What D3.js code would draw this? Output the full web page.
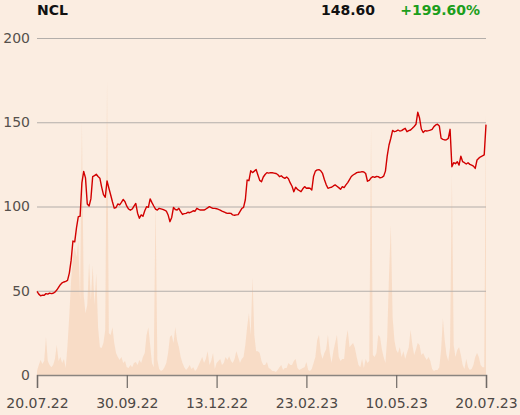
<!DOCTYPE html>
<html>
<head>
<meta charset="utf-8">
<script src="https://cdn.jsdelivr.net/npm/d3@7"></script>
<style>
  html, body { margin: 0; padding: 0; background: #fbede1; }
  svg { display: block; }
  svg text { font-family: "DejaVu Sans", sans-serif; }
</style>
</head>
<body>
<div id="chart"></div>
<script>
// header
var ticker = "NCL";
var lastPrice = "148.60";
var change = "+199.60%";

// x tick labels, one every 50 trading days
var tickIdx = [0, 50, 100, 150, 200, 250];
var tickLabels = ["20.07.22", "30.09.22", "13.12.22", "23.02.23", "10.05.23", "20.07.23"];
var yTicks = [0, 50, 100, 150, 200];

// daily close
var prices = [
  49.6,48.0,47.0,47.4,47.3,48.3,48.0,48.6,48.3,48.5,
  49.2,50.4,52.0,53.6,54.7,55.2,55.6,56.2,60.5,68.0,
  79.5,79.0,87.5,94.0,94.2,114.0,120.8,117.0,101.5,100.3,
  104.5,117.7,118.3,119.1,117.8,116.8,111.5,107.0,105.5,115.2,
  111.0,107.0,102.8,99.0,99.4,101.5,101.0,102.5,104.2,102.8,
  100.2,98.5,97.8,98.5,100.2,101.8,96.0,93.0,95.0,94.2,
  97.5,99.9,99.5,104.5,102.3,100.3,98.5,97.9,98.9,98.6,
  98.3,97.8,97.3,95.0,91.0,93.5,99.5,98.2,97.9,98.9,
  96.9,95.3,95.8,95.9,96.6,96.3,96.8,97.5,97.2,98.9,
  98.3,97.9,98.0,97.9,98.5,99.2,99.9,99.4,98.9,98.9,
  98.7,98.3,97.9,97.3,96.8,96.3,95.9,96.0,95.9,95.0,
  94.8,95.0,95.2,97.0,98.8,99.5,104.0,115.7,115.3,121.2,
  120.1,121.0,122.0,118.7,115.5,114.7,117.5,119.0,120.1,119.8,
  120.1,120.0,119.8,119.6,119.0,117.7,118.2,117.3,116.7,117.5,
  116.5,114.0,112.0,108.8,111.4,110.2,109.5,108.8,110.5,111.8,
  110.8,111.0,110.8,109.8,118.0,121.0,121.7,121.9,121.2,119.6,
  116.0,113.0,110.8,111.2,111.4,112.2,112.8,112.0,111.2,110.2,
  111.8,111.2,112.8,114.2,116.0,117.8,118.7,119.3,120.1,120.3,
  120.4,120.7,120.5,119.6,115.0,115.5,117.0,117.7,117.3,117.8,
  117.7,117.0,117.3,118.0,121.0,130.0,136.5,140.5,145.2,144.4,
  144.7,145.4,144.8,145.0,145.8,146.4,144.4,145.0,145.4,146.4,
  147.5,148.8,155.9,152.5,146.0,143.9,145.0,144.8,145.0,145.3,
  145.8,147.4,148.4,148.8,147.8,140.5,139.8,139.5,139.6,140.4,
  145.8,123.6,126.0,125.4,126.6,124.6,129.9,126.6,126.0,125.2,
  126.0,125.0,124.6,124.0,122.6,127.6,128.7,129.5,130.0,130.6,
  148.6
];

// daily volume, millions of shares
var volumes = [
  1.4,3.6,5.3,3.9,5.0,13.5,5.0,3.6,2.8,3.6,
  5.7,10.7,5.0,6.4,4.3,5.7,2.5,10.7,21.3,33.7,
  41.9,45.4,41.9,47.9,26.6,90.5,28.4,22.0,24.9,40.1,
  26.6,39.1,24.9,36.2,17.0,9.9,9.6,11.4,16.0,104.7,
  14.9,14.2,17.0,11.4,7.8,6.4,5.3,6.4,4.3,5.0,
  2.8,2.5,3.6,2.8,4.3,4.6,3.6,5.3,4.3,6.4,
  7.8,14.2,17.0,10.7,4.3,2.8,62.1,5.3,2.1,1.4,
  1.8,2.8,4.3,7.8,13.5,14.2,11.4,17.0,12.4,9.9,
  6.4,4.3,2.8,1.8,2.5,3.6,2.1,2.8,1.4,2.1,
  3.6,5.0,6.4,4.3,5.7,8.5,3.6,5.0,7.8,2.1,
  4.3,5.0,5.7,3.6,4.3,6.4,5.3,6.7,5.0,4.3,
  5.7,8.5,6.4,4.3,5.7,6.4,10.7,17.0,22.0,14.2,
  34.8,14.2,8.5,8.5,7.8,5.0,3.6,3.6,4.6,2.5,
  2.1,1.4,1.4,1.1,1.8,2.8,3.6,1.8,2.5,2.5,
  4.3,3.6,3.6,5.0,5.7,2.5,1.8,2.1,2.5,2.8,
  4.6,1.8,1.4,2.1,4.3,6.4,12.4,14.2,7.8,5.7,
  7.8,9.2,14.2,7.8,4.3,8.5,11.4,14.2,6.4,5.0,
  5.7,5.7,12.4,16.0,9.9,10.7,11.4,9.6,6.4,3.6,
  2.8,5.7,2.5,5.7,4.3,5.0,88.8,7.1,6.4,7.8,
  14.2,13.5,9.2,6.4,4.3,13.5,35.5,53.3,20.6,12.4,
  8.9,7.8,9.9,6.4,8.5,5.7,7.8,9.9,16.0,10.7,
  7.1,9.2,11.4,10.7,7.1,7.8,6.4,5.3,6.4,5.0,
  2.1,1.4,1.8,1.8,2.8,8.9,20.2,12.4,7.1,5.0,
  9.9,71.0,10.7,6.4,8.9,9.9,7.1,3.6,2.1,5.7,
  2.8,1.8,2.1,3.6,6.4,7.8,6.4,3.6,2.8,2.8,
  93.0
];

var W = 520, H = 415;
var m = {t: 38, r: 34, b: 40, l: 37};
var w = W - m.l - m.r, h = H - m.t - m.b;

var svg = d3.select("#chart").append("svg")
    .attr("width", W).attr("height", H);

svg.append("rect").attr("width", W).attr("height", H).attr("fill", "#fbede1");

var g = svg.append("g").attr("transform", "translate(" + m.l + "," + m.t + ")");

var x = d3.scaleLinear().domain([0, prices.length - 1]).range([0, w]);
var y = d3.scaleLinear().domain([0, 200]).range([h, 0]);
var yVol = d3.scaleLinear().domain([0, 120]).range([h, 0]);

// volume area behind everything
var area = d3.area()
    .x(function(d, i) { return x(i); })
    .y0(h)
    .y1(function(d) { return yVol(d); });
g.append("path").datum(volumes)
    .attr("d", area)
    .attr("fill", "#f7d6bc")
    .attr("fill-opacity", 0.75);

// gridlines + y labels
var yAx = g.append("g")
    .call(d3.axisLeft(y).tickValues(yTicks).tickSize(-w).tickPadding(7));
yAx.attr("font-family", "DejaVu Sans");
yAx.select(".domain").remove();
yAx.selectAll(".tick line")
    .attr("stroke", function(d) { return d === 0 ? "none" : "#b3aeaa"; })
    .attr("stroke-width", 1.2);
yAx.selectAll(".tick text")
    .attr("fill", "#55504c").style("font-size", "14px");

// x axis
var xAx = g.append("g").attr("transform", "translate(0," + h + ")")
    .call(d3.axisBottom(x).tickValues(tickIdx)
        .tickFormat(function(d, i) { return tickLabels[i]; })
        .tickSize(13).tickPadding(10));
xAx.attr("font-family", "DejaVu Sans");
xAx.select(".domain").attr("stroke", "#8a8580").attr("stroke-width", 1.5);
xAx.selectAll(".tick line").attr("stroke", "#6f6a66").attr("stroke-width", 1.2);
xAx.selectAll(".tick text")
    .attr("fill", "#4d4845").style("font-size", "14px");

// price line
var line = d3.line()
    .x(function(d, i) { return x(i); })
    .y(function(d) { return y(d); });
g.append("path").datum(prices)
    .attr("d", line)
    .attr("fill", "none")
    .attr("stroke", "#d20000")
    .attr("stroke-width", 1.4)
    .attr("stroke-linejoin", "round");

// header
svg.append("text").attr("x", 37).attr("y", 15)
    .style("font-size", "14px").style("font-weight", "bold")
    .attr("fill", "#111").text(ticker);
svg.append("text").attr("x", 375).attr("y", 15).attr("text-anchor", "end")
    .style("font-size", "14px").style("font-weight", "bold")
    .attr("fill", "#111").text(lastPrice);
svg.append("text").attr("x", 480).attr("y", 15).attr("text-anchor", "end")
    .style("font-size", "14px").style("font-weight", "bold")
    .attr("fill", "#1c9e1c").text(change);
</script>
</body>
</html>
